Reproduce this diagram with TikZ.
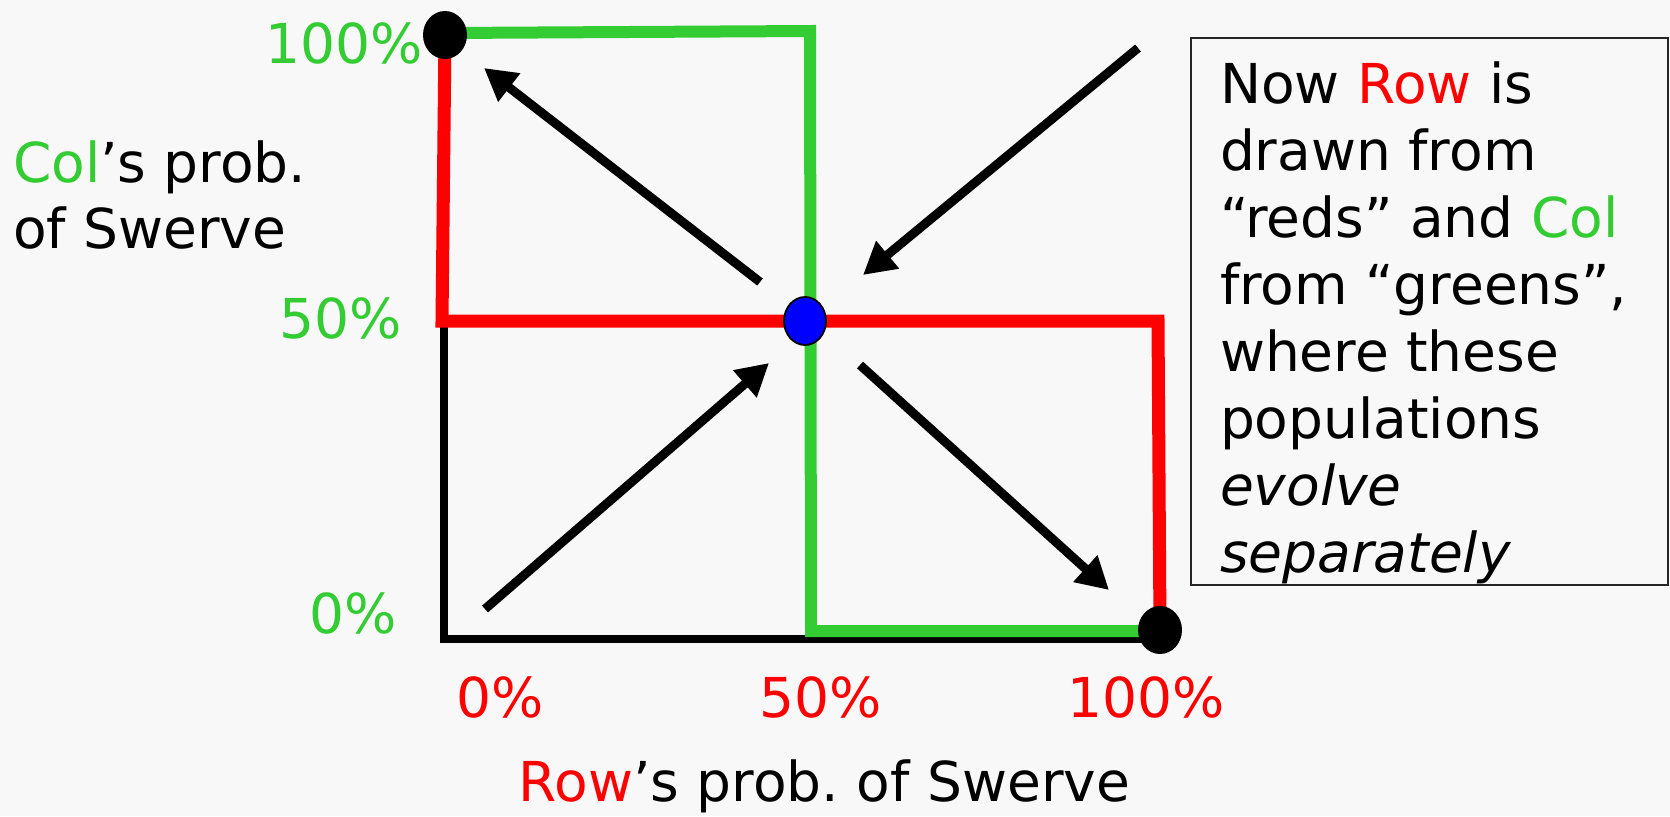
\documentclass[tikz,border=0pt]{standalone}
\usepackage{fontspec}
\setmainfont{DejaVu Sans}
\usetikzlibrary{arrows.meta,shapes.geometric}
\definecolor{bgc}{RGB}{248,248,248}
\definecolor{rd}{RGB}{255,0,0}
\definecolor{gr}{RGB}{51,204,51}
\definecolor{bl}{RGB}{0,0,255}
\frenchspacing
\begin{document}
\begin{tikzpicture}[x=0.5pt,y=-0.5pt,
  lbl/.style={inner sep=0pt, outer sep=0pt, font=\fontsize{27.5}{33.5}\selectfont},
  axisline/.style={draw=black, line width=4pt},
  greenline/.style={draw=gr, line width=6pt, line join=miter},
  redline/.style={draw=rd, line width=6.5pt, line join=miter},
  flow/.style={draw=black, line width=4.5pt, -{Triangle[length=16pt,width=17pt]}},
  enddot/.style={ellipse, fill=black, inner sep=0pt, minimum width=22pt, minimum height=24pt},
  eqdot/.style={ellipse, draw=black, line width=0.9pt, fill=bl, inner sep=0pt, minimum width=21pt, minimum height=24pt}
]
\path[use as bounding box, fill=bgc] (0,0) rectangle (1670,816);

% corner coordinates
\coordinate (axtop) at (444,321);
\coordinate (axorigin) at (444,639);
\coordinate (axright) at (1160,639);
\coordinate (gA) at (445,33);
\coordinate (gB) at (810,31);
\coordinate (gC) at (811,631);
\coordinate (gD) at (1160,631);
\coordinate (rA) at (445,35);
\coordinate (rB) at (442,321);
\coordinate (rC) at (1158,321);
\coordinate (rD) at (1160,630);

% axes
\draw[axisline] (axtop) -- (axorigin) -- (axright);
% green best response
\draw[greenline] (gA) -- (gB) -- (gC) -- (gD);
% red best response
\draw[redline] (rA) -- (rB) -- (rC) -- (rD);

% flow arrows
\coordinate (a1s) at (760,282);
\coordinate (a1e) at (484,68);
\coordinate (a2s) at (1138,48);
\coordinate (a2e) at (863,275);
\coordinate (a3s) at (485,609);
\coordinate (a3e) at (769,363);
\coordinate (a4s) at (860,365);
\coordinate (a4e) at (1109,590);
\draw[flow] (a1s) -- (a1e);
\draw[flow] (a2s) -- (a2e);
\draw[flow] (a3s) -- (a3e);
\draw[flow] (a4s) -- (a4e);

% dots
\node[enddot] (dtl) at (445,35) {};
\node[enddot] (dbr) at (1160,630) {};
\node[eqdot] (mid) at (805,321) {};

% vertical axis labels
\node[lbl, text=gr, anchor=base east] (y100) at (423,63) {100\%};
\node[lbl, text=gr, anchor=base east] (y50) at (402,338) {50\%};
\node[lbl, text=gr, anchor=base east] (y0) at (397,633) {0\%};
\node[lbl, anchor=base west, font=\fontsize{27.5}{32.75}\selectfont] (ylab) at (13,182.5)
  {\begin{tabular}[t]{@{}l@{}}\textcolor{gr}{Col}’s prob.\\ of Swerve\end{tabular}};

% horizontal axis labels
\node[lbl, text=rd, anchor=base] (x0) at (500,717) {0\%};
\node[lbl, text=rd, anchor=base] (x50) at (821,717) {50\%};
\node[lbl, text=rd, anchor=base] (x100) at (1146,717) {100\%};
\node[lbl, anchor=base] (xlab) at (824.5,801) {\textcolor{rd}{Row}’s prob. of Swerve};

% text box
\node[draw=black!85, line width=1pt, anchor=north west, inner sep=0pt,
  minimum width=238.5pt, minimum height=273.5pt] (box) at (1190,37) {};
\node[lbl, anchor=base west] (boxtext) at (1220,103)
  {\begin{tabular}[t]{@{}l@{}}
   Now \textcolor{rd}{Row} is\\
   drawn from\\
   “reds” and \textcolor{gr}{Col}\\
   from “greens”,\\
   where these\\
   populations\\
   \textit{evolve}\\
   \textit{separately}
   \end{tabular}};
\end{tikzpicture}
\end{document}
